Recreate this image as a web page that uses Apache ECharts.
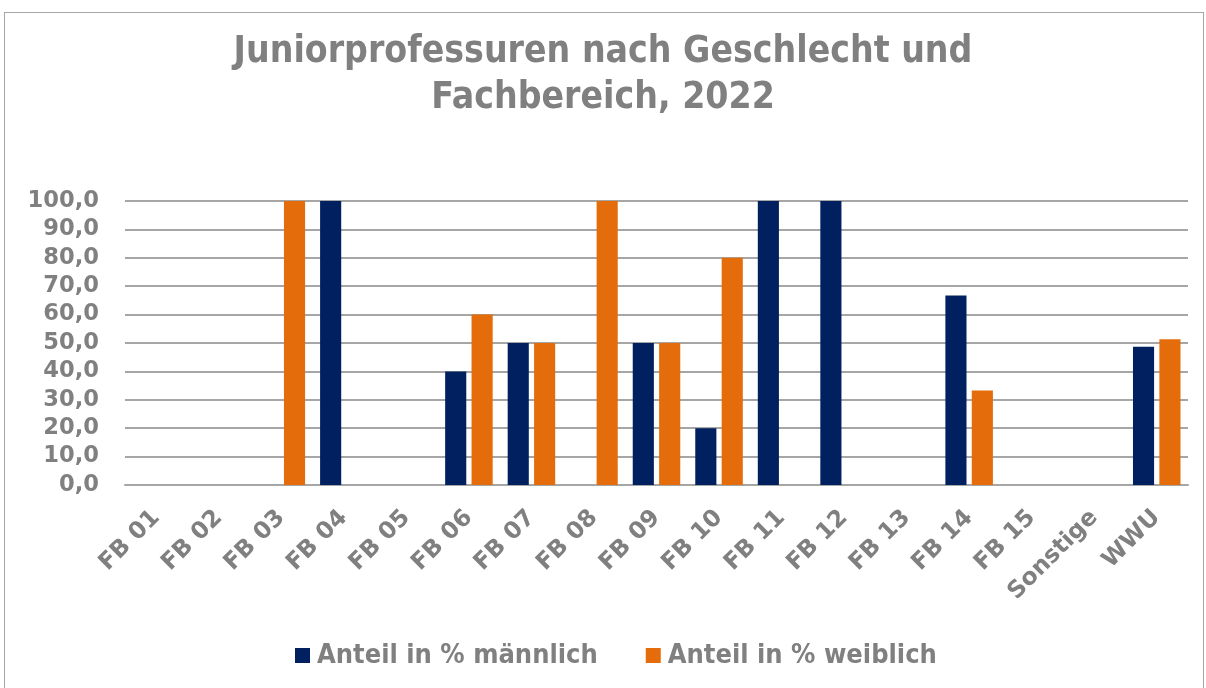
<!DOCTYPE html>
<html>
<head>
<meta charset="utf-8">
<script src="https://cdn.jsdelivr.net/npm/echarts@6/dist/echarts.min.js"></script>
<style>
  html, body { margin: 0; padding: 0; background: #fff; }
  #frame { position: absolute; left: 4px; top: 12px; width: 1200px; height: 690px; border: 1px solid #a6a6a6; border-bottom: none; box-sizing: border-box; }
  #chart { position: absolute; left: 0; top: 0; width: 1206px; height: 688px; }
</style>
</head>
<body>
<div id="frame"></div>
<div id="chart"></div>
<script>
  const categories = ['FB 01', 'FB 02', 'FB 03', 'FB 04', 'FB 05', 'FB 06', 'FB 07', 'FB 08', 'FB 09',
    'FB 10', 'FB 11', 'FB 12', 'FB 13', 'FB 14', 'FB 15', 'Sonstige', 'WWU'];
  const maennlich = [0, 0, 0, 100, 0, 40, 50, 0, 50, 20, 100, 100, 0, 66.7, 0, 0, 48.7];
  const weiblich = [0, 0, 100, 0, 0, 60, 50, 100, 50, 80, 0, 0, 0, 33.3, 0, 0, 51.3];
  const seriesNames = ['Anteil in % männlich', 'Anteil in % weiblich'];

  const grey = '#808080';
  const chart = echarts.init(document.getElementById('chart'));

  chart.setOption({
    animation: false,
    title: {
      text: 'Juniorprofessuren nach Geschlecht und\nFachbereich, 2022',
      left: 'center',
      top: 24,
      textStyle: {
        fontFamily: 'DejaVu Sans Condensed',
        fontWeight: 'bold',
        fontSize: 37,
        lineHeight: 46,
        color: grey
      }
    },
    legend: {
      bottom: 14,
      left: 290,
      itemWidth: 15,
      itemHeight: 15,
      itemGap: 48,
      icon: 'rect',
      textStyle: {
        fontFamily: 'DejaVu Sans Condensed',
        fontWeight: 'bold',
        fontSize: 27,
        color: grey,
        padding: [0, 0, 0, 2]
      }
    },
    grid: {
      left: 125,
      right: 18,
      top: 201,
      bottom: 203
    },
    xAxis: {
      type: 'category',
      data: categories,
      axisTick: { show: false },
      axisLine: { lineStyle: { color: '#a6a6a6', width: 2 } },
      axisLabel: {
        interval: 0,
        rotate: 45,
        margin: 29,
        fontFamily: 'DejaVu Sans',
        fontWeight: 'bold',
        fontSize: 23.5,
        color: grey
      }
    },
    yAxis: {
      type: 'value',
      min: 0,
      max: 100,
      interval: 10,
      axisLine: { show: false },
      axisTick: { show: false },
      axisLabel: {
        margin: 26,
        fontFamily: 'DejaVu Sans',
        fontWeight: 'bold',
        fontSize: 22.6,
        color: grey,
        formatter: v => v.toFixed(1).replace('.', ',')
      },
      splitLine: { lineStyle: { color: '#a6a6a6', width: 2 } }
    },
    series: [
      {
        name: seriesNames[0],
        type: 'bar',
        data: maennlich,
        barGap: '25%',
        barCategoryGap: '24%',
        itemStyle: { color: '#002060' }
      },
      {
        name: seriesNames[1],
        type: 'bar',
        data: weiblich,
        itemStyle: { color: '#E46C0A' }
      }
    ]
  });
</script>
</body>
</html>
